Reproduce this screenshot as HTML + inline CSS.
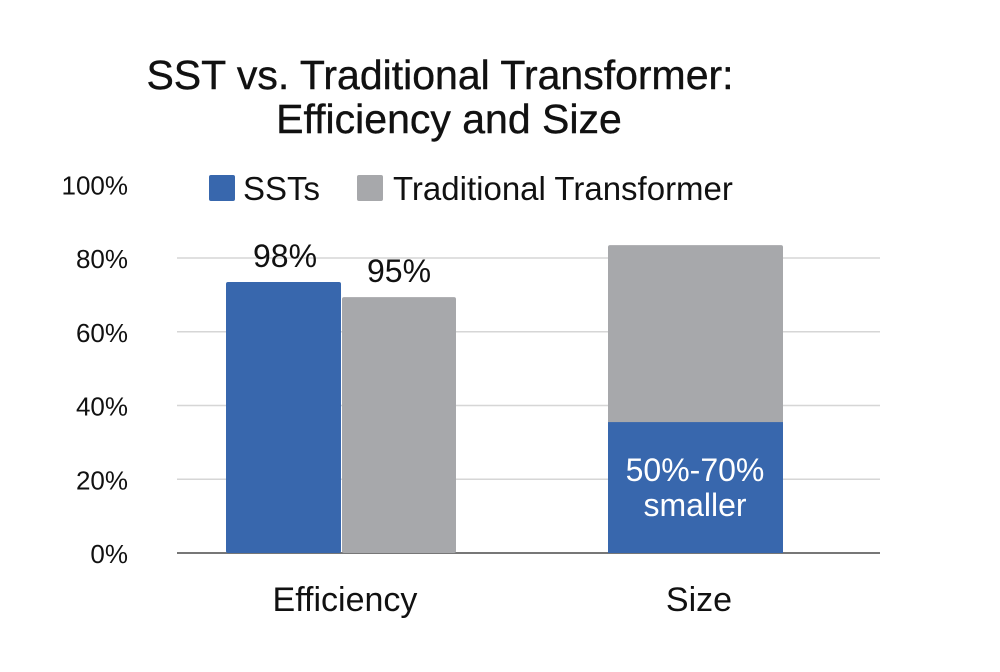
<!DOCTYPE html>
<html><head><meta charset="utf-8"><style>
body{margin:0;background:#fff;font-family:"Liberation Sans",sans-serif;}
svg text{font-family:"Liberation Sans",sans-serif;}
</style></head><body>
<svg width="1000" height="667" viewBox="0 0 1000 667" xmlns="http://www.w3.org/2000/svg">
<text x="440" y="89" font-size="41" text-anchor="middle" fill="#111" stroke="#111" stroke-width="0.4">SST vs. Traditional Transformer:</text>
<text x="449" y="133" font-size="41" text-anchor="middle" fill="#111" stroke="#111" stroke-width="0.4">Efficiency and Size</text>
<g>
<rect x="209" y="175" width="26" height="26" rx="2" fill="#3867ad"/>
<text x="243" y="200" font-size="33" fill="#111">SSTs</text>
<rect x="357" y="175" width="26" height="26" rx="2" fill="#a7a8ab"/>
<text x="393" y="200" font-size="33" fill="#111">Traditional Transformer</text>
</g>
<g id="grid"></g><g id="ylab"></g><g id="bars"></g><g id="xlab"></g>
</svg>
<script>
const categories=["Efficiency","Size"];
const sstValues=[73.5,35.5];
const tradValues=[69.4,83.5];
const sstLabels=["98%","50%-70%\nsmaller"];
const tradLabels=["95%",""];
const yTicks=[0,20,40,60,80,100];
const yTickLabels=["0%","20%","40%","60%","80%","100%"];
const NS="http://www.w3.org/2000/svg";
const y0=553,pxPer=3.6875;
function y(v){return y0-v*pxPer;}
function mk(tag,attrs,parent){const e=document.createElementNS(NS,tag);for(const k in attrs)e.setAttribute(k,attrs[k]);document.getElementById(parent).appendChild(e);return e;}
yTicks.forEach((t,i)=>{
  if(t>0&&t<100){const l=mk('line',{x1:177,x2:880,y1:y(t),y2:y(t),stroke:'#d6d6d6','stroke-width':1.5},'grid');
  
  }
  const tx=mk('text',{x:128,y:y(t)+10,'font-size':26,'text-anchor':'end',fill:'#111'},'ylab');
  
  
  tx.textContent=yTickLabels[i];
});
const base=mk('line',{x1:177,x2:880,y1:y0,y2:y0,stroke:'#777','stroke-width':2},'grid');


{
  const b1=mk('rect',{x:226,y:y(sstValues[0]),width:115,height:sstValues[0]*pxPer,fill:'#3867ad',rx:2},'bars');
  
  
  const b2=mk('rect',{x:342,y:y(tradValues[0]),width:114,height:tradValues[0]*pxPer,fill:'#a7a8ab',rx:2},'bars');
  
  
  const t1=mk('text',{x:285,y:y(sstValues[0])-15,'font-size':32,'text-anchor':'middle',fill:'#111'},'bars');
  
  
  t1.textContent=sstLabels[0];
  const t2=mk('text',{x:399,y:y(tradValues[0])-15,'font-size':32,'text-anchor':'middle',fill:'#111'},'bars');
  
  
  t2.textContent=tradLabels[0];
}
{
  const g=mk('rect',{x:608,y:y(tradValues[1]),width:175,height:tradValues[1]*pxPer,fill:'#a7a8ab',rx:2},'bars');
  
  
  const b=mk('rect',{x:608,y:y(sstValues[1]),width:175,height:sstValues[1]*pxPer,fill:'#3867ad'},'bars');
  
  
  const lines=sstLabels[1].split('\n');
  lines.forEach((s,i)=>{
    const t=mk('text',{x:695,y:y(sstValues[1])+59+i*35,'font-size':32,'text-anchor':'middle',fill:'#fff'},'bars');
    
    
    t.textContent=s;
  });
}
const catX=[341,695];
categories.forEach((c,i)=>{
  const t=mk('text',{x:catX[i]+4,y:611,'font-size':34,'text-anchor':'middle',fill:'#111'},'xlab');
  
  
  t.textContent=c;
});
</script>
</body></html>
